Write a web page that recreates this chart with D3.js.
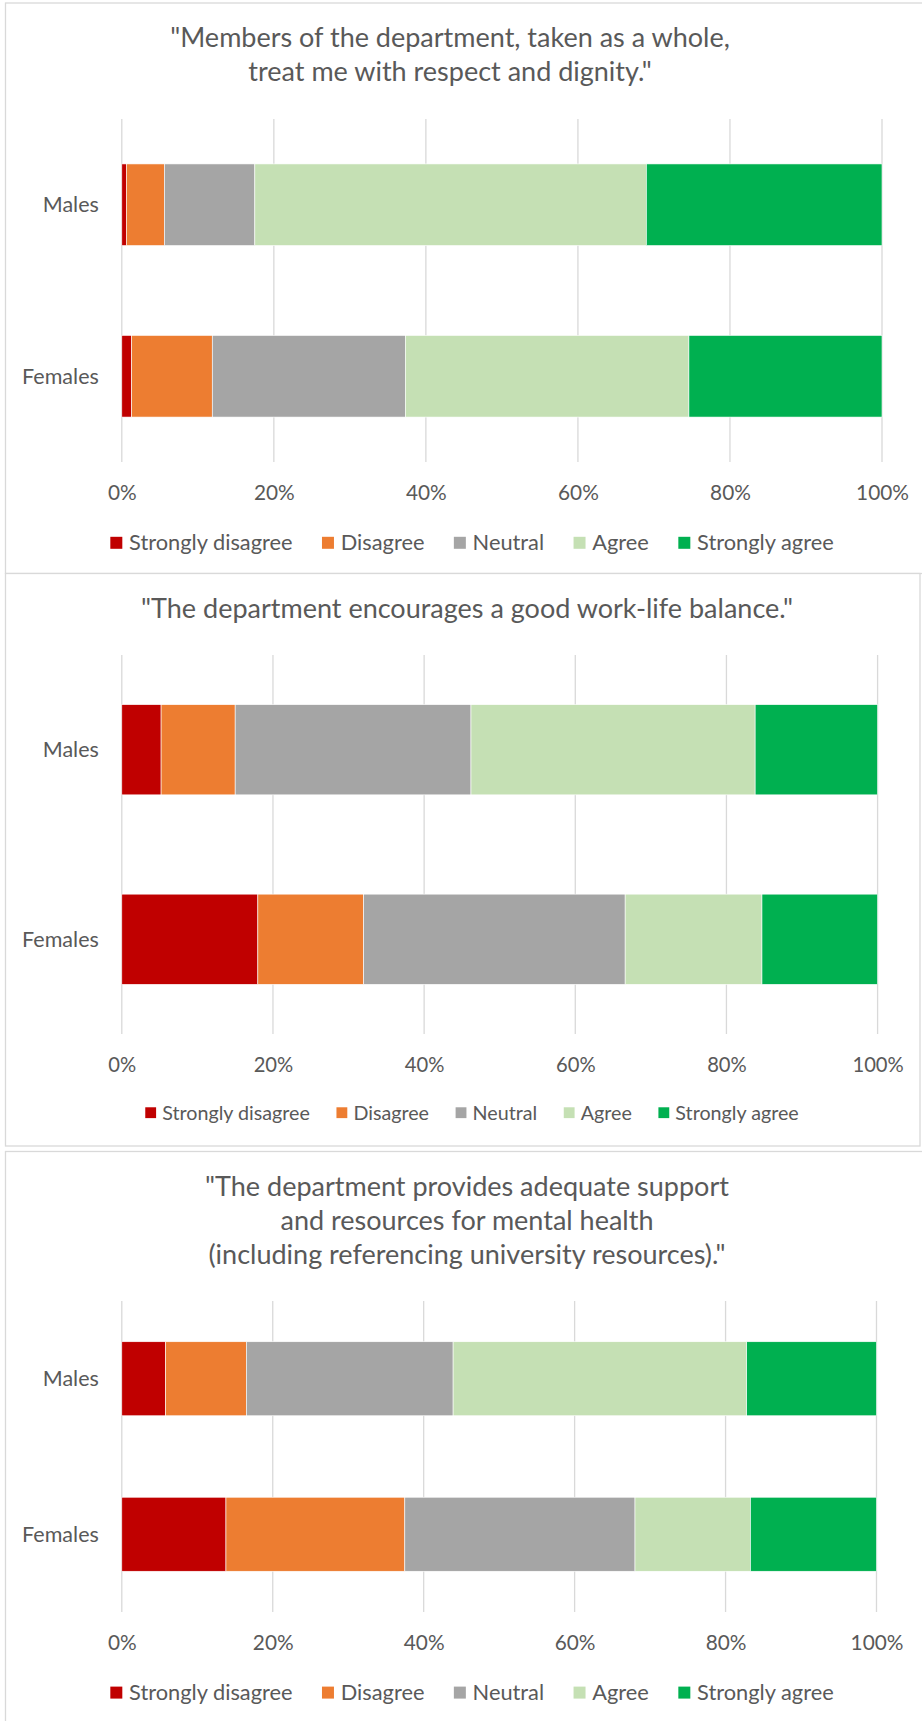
<!DOCTYPE html>
<html>
<head>
<meta charset="utf-8">
<script src="https://cdn.jsdelivr.net/npm/d3@7"></script>
<style>
  body { margin: 0; background: #fff; }
  svg text { font-family: Lato, "Open Sans", sans-serif; fill: #595959; }
</style>
</head>
<body>
<svg id="chart" width="922" height="1721"></svg>
<script>
// ---- Data ----------------------------------------------------------------
const groups = ["Males", "Females"];
const responses = ["Strongly disagree", "Disagree", "Neutral", "Agree", "Strongly agree"];
const tickValues = [0, 0.2, 0.4, 0.6, 0.8, 1];

// Percent of respondents per answer, in the order of `responses`
const respectMales      = [0.6, 5.0, 11.9, 51.5, 31.0];
const respectFemales    = [1.3, 10.6, 25.4, 37.3, 25.4];
const workLifeMales     = [5.2, 9.8, 31.2, 37.6, 16.2];
const workLifeFemales   = [18.0, 14.0, 34.6, 18.1, 15.3];
const mentalMales       = [5.8, 10.7, 27.4, 38.9, 17.2];
const mentalFemales     = [13.8, 23.7, 30.5, 15.3, 16.7];

const respectTitle  = ["\"Members of the department, taken as a whole,", "treat me with respect and dignity.\""];
const workLifeTitle = ["\"The department encourages a good work-life balance.\""];
const mentalTitle   = ["\"The department provides adequate support", "and resources for mental health", "(including referencing university resources).\""];

// ---- Styles ----------------------------------------------------------------
const palette = ["#C00000", "#ED7D31", "#A5A5A5", "#C5E0B4", "#00B050"];
const gridColor = "#d9d9d9";

// ---- Layout of the three stacked panels -------------------------------------
const panels = [
  {
    title: respectTitle, males: respectMales, females: respectFemales,
    box: { x: 5.5, y: 3, w: 930, h: 570.5 },
    titleX: 450, titleY: 47.4, lineGap: 33.2,
    x0: 121.8, x1: 882, gridTop: 119, gridBottom: 462,
    tickY: 499.5, legendY: 542.8, legendFont: 21.8, tickFont: 20.8
  },
  {
    title: workLifeTitle, males: workLifeMales, females: workLifeFemales,
    box: { x: 5.5, y: 573.5, w: 914.5, h: 572.5 },
    titleX: 467, titleY: 618, lineGap: 34,
    x0: 121.8, x1: 877.6, gridTop: 655, gridBottom: 1034,
    tickY: 1072.3, legendY: 1112.7, legendFont: 19.7, tickFont: 20.2
  },
  {
    title: mentalTitle, males: mentalMales, females: mentalFemales,
    box: { x: 5.5, y: 1151.5, w: 930, h: 600 },
    titleX: 467, titleY: 1195.5, lineGap: 34,
    x0: 121.8, x1: 876.5, gridTop: 1301, gridBottom: 1612,
    tickY: 1650, legendY: 1692.6, legendFont: 21.8, tickFont: 20.8
  }
];

const svg = d3.select("#chart");
const stack = d3.stack().keys(d3.range(responses.length)).offset(d3.stackOffsetExpand);

panels.forEach(p => {
  const g = svg.append("g");

  // panel frame
  g.append("rect")
    .attr("x", p.box.x).attr("y", p.box.y)
    .attr("width", p.box.w).attr("height", p.box.h)
    .attr("fill", "#fff").attr("stroke", gridColor).attr("stroke-width", 1.3);

  // title
  g.append("text")
    .attr("text-anchor", "middle")
    .attr("font-size", 27)
    .selectAll("tspan").data(p.title).join("tspan")
    .attr("x", p.titleX)
    .attr("y", (d, i) => p.titleY + i * p.lineGap)
    .text(d => d);

  const x = d3.scaleLinear().domain([0, 1]).range([p.x0, p.x1]);
  const y = d3.scaleBand().domain(groups).range([p.gridTop, p.gridBottom])
    .paddingInner(0.524).paddingOuter(0.262);

  // vertical gridlines
  g.append("g").selectAll("line").data(tickValues).join("line")
    .attr("x1", d => x(d)).attr("x2", d => x(d))
    .attr("y1", p.gridTop).attr("y2", p.gridBottom)
    .attr("stroke", gridColor).attr("stroke-width", 1.3);

  // x-axis tick labels
  const xAxis = d3.axisBottom(x).tickValues(tickValues).tickFormat(d3.format(".0%")).tickSize(0).tickPadding(0);
  const ax = g.append("g").attr("transform", `translate(0,${p.tickY})`).call(xAxis);
  ax.select(".domain").remove();
  ax.selectAll("text").attr("dy", null).attr("y", 0)
    .attr("font-size", p.tickFont).attr("font-family", null).style("fill", "#595959");
  ax.attr("font-family", null).attr("font-size", null);

  // category labels
  const yAxis = d3.axisLeft(y).tickSize(0).tickPadding(0);
  const ay = g.append("g").attr("transform", `translate(${p.x0 - 23},0)`).call(yAxis);
  ay.select(".domain").remove();
  ay.selectAll("text").attr("font-size", 21.5).style("fill", "#595959").attr("dy", "0.35em");
  ay.attr("font-family", null).attr("font-size", null);

  // stacked bars
  const rows = [p.males, p.females];
  const series = stack(rows);
  g.append("g").selectAll("g").data(series).join("g")
    .attr("fill", (d, i) => palette[i])
    .selectAll("rect").data(d => d).join("rect")
    .attr("x", d => x(d[0]))
    .attr("width", d => x(d[1]) - x(d[0]))
    .attr("y", (d, i) => y(groups[i]))
    .attr("height", y.bandwidth())
    .attr("stroke", "#fff").attr("stroke-width", 0.6);

  // legend, centred below the axis
  const fs = p.legendFont;
  const sw = 0.55 * fs, textGap = 0.31 * fs, itemGap = 1.35 * fs;
  const lg = g.append("g");
  const items = lg.selectAll("g").data(responses).join("g");
  items.append("rect")
    .attr("width", sw).attr("height", sw)
    .attr("y", -sw / 2)
    .attr("fill", (d, i) => palette[i]);
  items.append("text")
    .attr("x", sw + textGap).attr("dy", "0.35em")
    .attr("font-size", fs)
    .text(d => d);
  let cursor = 0;
  items.each(function () {
    const w = d3.select(this).select("text").node().getComputedTextLength();
    d3.select(this).attr("transform", `translate(${cursor},0)`);
    cursor += sw + textGap + w + itemGap;
  });
  const total = cursor - itemGap;
  lg.attr("transform", `translate(${472 - total / 2},${p.legendY})`);
});
</script>
</body>
</html>
